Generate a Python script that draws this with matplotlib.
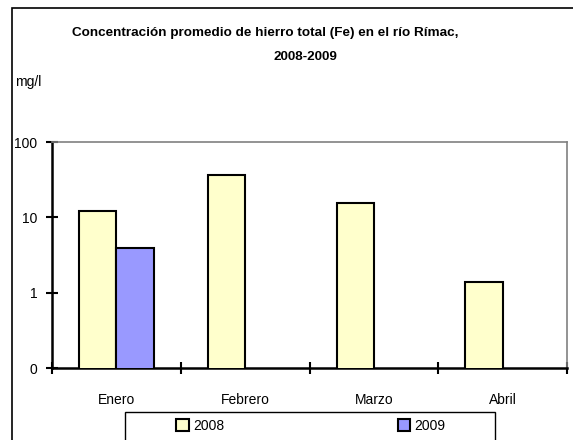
import matplotlib
matplotlib.use("Agg")
from matplotlib import pyplot as plt
from matplotlib.patches import Rectangle
import numpy as np

plt.rcParams["font.family"] = ["Liberation Sans Narrow", "Liberation Sans", "DejaVu Sans"]

months = ["Enero", "Febrero", "Marzo", "Abril"]
fe_2008 = [12.3, 36.5, 15.6, 1.37]
fe_2009 = [3.9, None, None, None]
series_labels = ["2008", "2009"]
colors = ["#FFFFCC", "#9999FF"]

W, H = 573, 440
fig = plt.figure(figsize=(W / 100, H / 100), dpi=100)
ax = fig.add_axes([52 / W, 1 - 368 / H, (567 - 52) / W, (368 - 142) / H])
ax.set_yscale("log")

x = np.arange(len(months))
width = 0.29
for i, (vals, lab, col) in enumerate(zip([fe_2008, fe_2009], series_labels, colors)):
    xs = [xi + (i - 0.5) * width for xi, v in zip(x, vals) if v is not None]
    vs = [v for v in vals if v is not None]
    ax.bar(xs, vs, width, color=col, edgecolor="black", linewidth=1.5, label=lab, zorder=3)

ax.set_ylim(0.1, 100)
ax.set_xlim(-0.5, len(months) - 0.5)
ax.set_yticks([0.1, 1, 10, 100])
ax.set_yticklabels(["0", "1", "10", "100"])
ax.minorticks_off()
ax.set_xticks(np.arange(-0.5, len(months), 1.0))
ax.set_xticklabels([])
ax.set_xticks(x, minor=True)
ax.set_xticklabels(months, minor=True)
ax.tick_params(axis="x", which="minor", length=0, pad=18, labelsize=10)
ax.tick_params(axis="x", which="major", direction="inout", length=9, width=1.5)
ax.tick_params(axis="y", which="major", direction="inout", length=9, width=1.5, labelsize=10, pad=6)
for s in ["left", "bottom"]:
    ax.spines[s].set_linewidth(1.8)
for s in ["top", "right"]:
    ax.spines[s].set_color("#808080")
    ax.spines[s].set_linewidth(1.2)

fig.text(265 / W, 1 - 33 / H, "Concentración promedio de hierro total (Fe) en el río Rímac,",
         ha="center", va="center", fontsize=9.7, fontweight="bold")
fig.text(305 / W, 1 - 57 / H, "2008-2009", ha="center", va="center", fontsize=9.7, fontweight="bold")
fig.text(15 / W, 1 - 82 / H, "mg/l", ha="left", va="center", fontsize=10)

# outer chart frame
fig.patches.append(Rectangle((12 / W, -0.1), 1.2, 1.1 - 8 / H, transform=fig.transFigure,
                             fill=False, edgecolor="black", linewidth=1.2, clip_on=False))
# legend box
fig.patches.append(Rectangle((125 / W, -0.1), (495 - 125) / W, 0.1 + 1 - 412 / H,
                             transform=fig.transFigure, fill=False, edgecolor="black",
                             linewidth=1.0, clip_on=False))
leg = fig.legend(loc="center", bbox_to_anchor=(311 / W, 1 - 426 / H), ncol=2, frameon=False,
                 fontsize=10, handlelength=0.9, handleheight=0.9, handletextpad=0.3,
                 columnspacing=12.5, borderpad=0)

fig.savefig("out.png", dpi=100)
